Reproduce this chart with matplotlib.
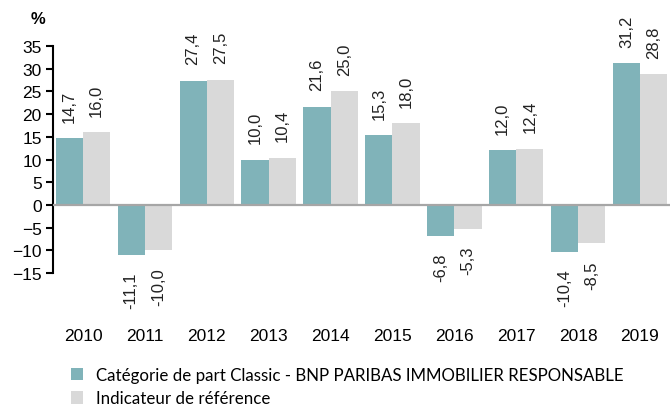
import numpy as np
import matplotlib
matplotlib.use("Agg")
import matplotlib.pyplot as plt

years = ["2010", "2011", "2012", "2013", "2014", "2015", "2016", "2017", "2018", "2019"]
fund = [14.7, -11.1, 27.4, 10.0, 21.6, 15.3, -6.8, 12.0, -10.4, 31.2]
index = [16.0, -10.0, 27.5, 10.4, 25.0, 18.0, -5.3, 12.4, -8.5, 28.8]
series_names = ["Catégorie de part Classic - BNP PARIBAS IMMOBILIER RESPONSABLE",
                "Indicateur de référence"]

TEAL = "#80b3b9"
GREY = "#d9d9d9"

plt.rcParams["font.family"] = ["Liberation Sans", "DejaVu Sans"]

fig = plt.figure(figsize=(6.7, 4.1), dpi=100)
ax = fig.add_axes([0.079, 0.332, 0.921, 0.553])

x = np.arange(len(years))
w = 0.44
ax.bar(x - w / 2, fund, w, color=TEAL, label=series_names[0])
ax.bar(x + w / 2, index, w, color=GREY, label=series_names[1])

# étiquettes de valeur verticales, décalées du bout des barres
for xs, vals in ((x - w / 2, fund), (x + w / 2, index)):
    for xi, v in zip(xs, vals):
        txt = f"{v:.1f}".replace(".", ",")
        ax.annotate(txt, (xi, v), xytext=(0, 12 if v >= 0 else -12),
                    textcoords="offset points", rotation=90,
                    ha="center", va="bottom" if v >= 0 else "top",
                    fontsize=12, color="#222222", annotation_clip=False)

ax.axhline(0, color="#a6a6a6", lw=1.6, zorder=3)

ax.set_xlim(-0.485, 9.485)
ax.set_ylim(-15, 35)
ax.set_yticks(range(-15, 36, 5))
ax.set_xticks(x)
ax.set_xticklabels(years)
ax.tick_params(axis="x", length=0, pad=40, labelsize=12.5)
ax.tick_params(axis="y", length=5, width=1.5, labelsize=12.5, pad=3)

for s in ["top", "right", "bottom"]:
    ax.spines[s].set_visible(False)
ax.spines["left"].set_linewidth(1.5)

fig.text(38 / 670, 1 - 20 / 410, "%", fontsize=12, fontweight="bold",
         ha="center", va="center")

fig.legend(loc="upper left", bbox_to_anchor=(64 / 670, 1 - 361 / 410),
           frameon=False, handlelength=0.75, handleheight=0.75,
           handletextpad=0.75, labelspacing=0.45, borderaxespad=0,
           prop={"family": ["Lato", "DejaVu Sans"], "size": 12.2})

fig.savefig("out.png", dpi=100)
